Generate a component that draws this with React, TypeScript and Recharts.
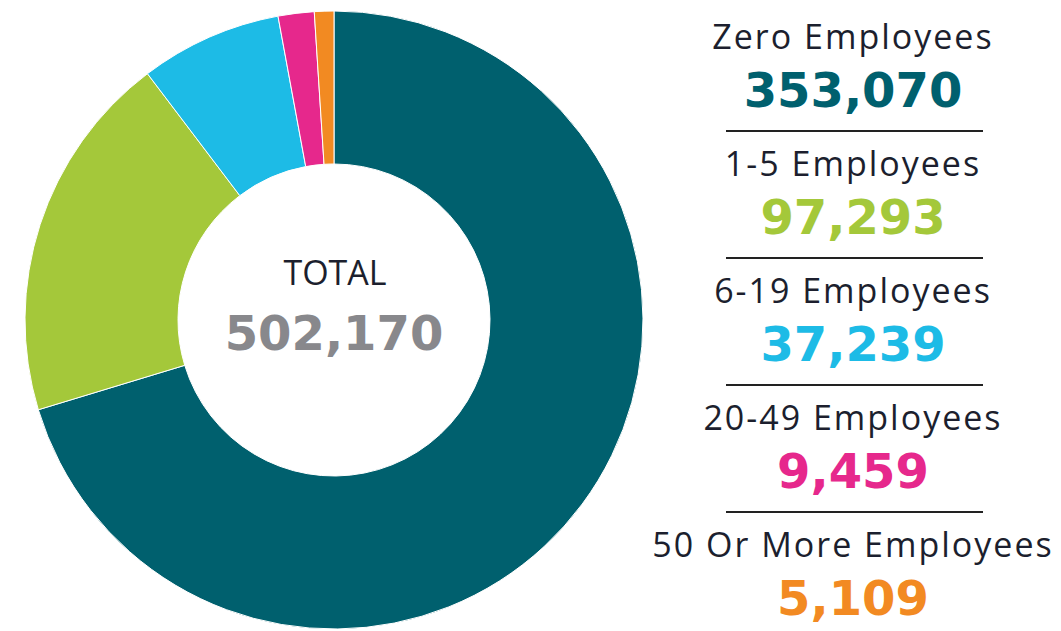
import React from 'react';
import { PieChart, Pie, Cell, Legend } from 'recharts';

const categories = ['Zero Employees', '1-5 Employees', '6-19 Employees', '20-49 Employees', '50 Or More Employees'];
const counts = [353070, 97293, 37239, 9459, 5109];
const COLORS = ['#00606e', '#a4c83a', '#1dbbe6', '#e6288c', '#f28a22'];
const totalTitle = 'TOTAL';

const data = categories.map((name, i) => ({ name, value: counts[i] }));
const total = counts.reduce((a, b) => a + b, 0);
const fmt = (n: number) => n.toLocaleString('en-US');

const CX = 334;
const CY = 320;

const labelFont = '"Open Sans", sans-serif';
const numFont = '"DejaVu Sans", sans-serif';

// total in the donut hole + right hand list of categories with values
const Overlay = () => {
  const x = 853;
  return (
    <svg width={1061} height={631} style={{ position: 'absolute', left: 0, top: 0, pointerEvents: 'none' }}>
      <text x={CX + 1} y={CY - 35} textAnchor="middle" fontFamily={labelFont} fontSize={34} fill="#1c1f2e">
        {totalTitle}
      </text>
      <text x={CX} y={CY + 30} textAnchor="middle" fontFamily={numFont} fontWeight="bold" fontSize={48} fill="#88888c">
        {fmt(total)}
      </text>
      {data.map((d, i) => {
        const base = 49 + i * 127;
        return (
          <g key={d.name}>
            <text x={x} y={base} textAnchor="middle" fontFamily={labelFont} fontSize={34} letterSpacing={2} fill="#1c1f2e">
              {d.name}
            </text>
            <text x={x} y={base + 58} textAnchor="middle" fontFamily={numFont} fontWeight="bold" fontSize={48} fill={COLORS[i]}>
              {fmt(d.value)}
            </text>
            {i < data.length - 1 && (
              <line x1={726} x2={983} y1={base + 82} y2={base + 82} stroke="#222" strokeWidth={2} />
            )}
          </g>
        );
      })}
    </svg>
  );
};

export default function App() {
  return (
    <div style={{ position: 'absolute', left: 0, top: 0, width: 1061, height: 631, background: '#fff' }}>
      <PieChart width={1061} height={631} margin={{ top: 0, right: 0, bottom: 0, left: 0 }}>
        <Pie
          data={data}
          dataKey="value"
          nameKey="name"
          cx={CX}
          cy={CY}
          innerRadius={156}
          outerRadius={309}
          startAngle={90}
          endAngle={-270}
          stroke="#fff"
          strokeWidth={1}
          isAnimationActive={false}
        >
          {data.map((_, index) => (
            <Cell key={`cell-${index}`} fill={COLORS[index]} />
          ))}
        </Pie>
        <Legend content={Overlay} wrapperStyle={{ position: 'absolute', left: 0, top: 0, width: 1061, height: 631 }} />
      </PieChart>
    </div>
  );
}
